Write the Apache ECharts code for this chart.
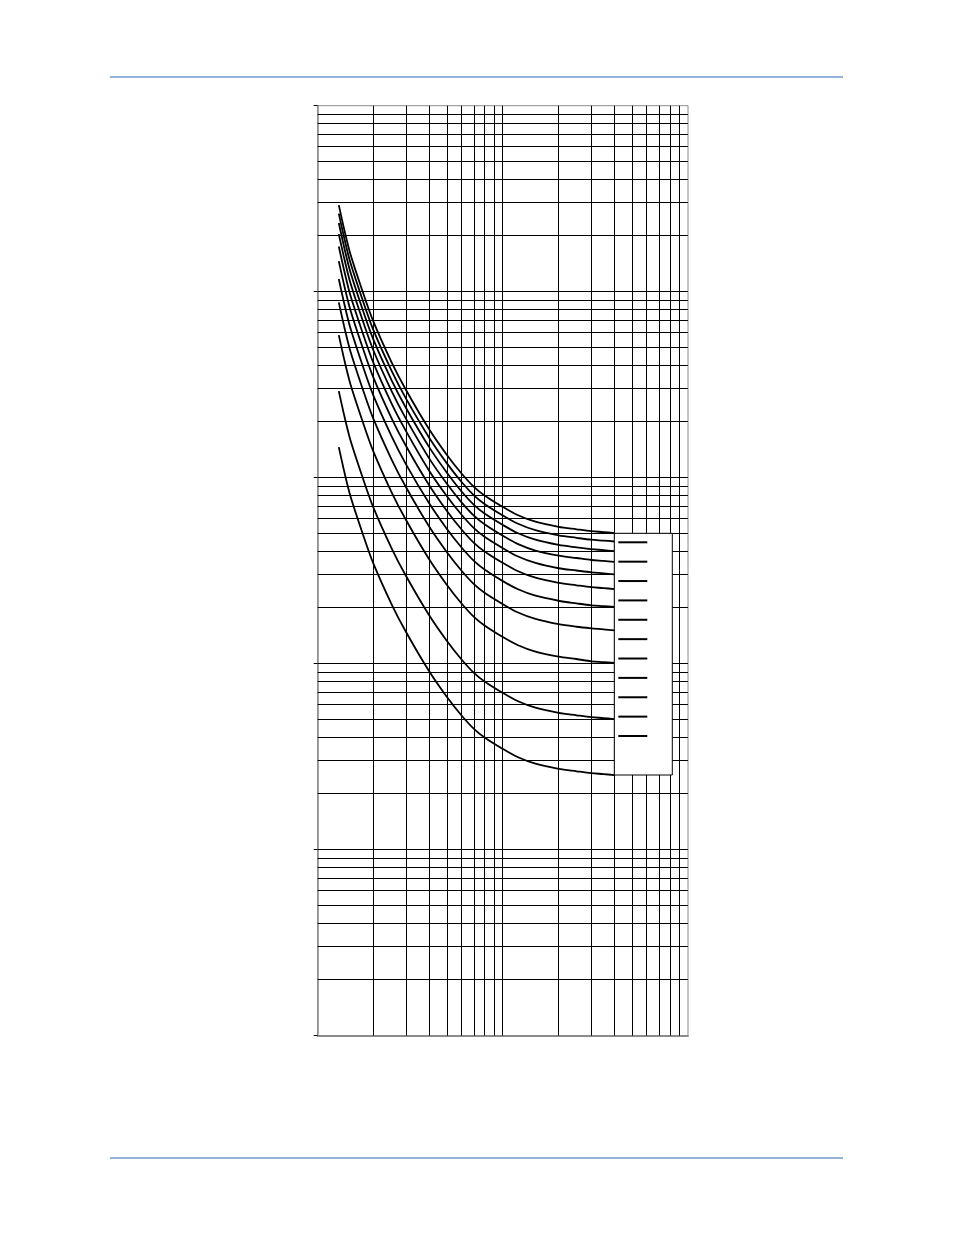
<!DOCTYPE html>
<html>
<head>
<meta charset="utf-8">
<script src="https://cdn.jsdelivr.net/npm/echarts@6/dist/echarts.min.js"></script>
<style>
html,body{margin:0;padding:0;background:#fff;}
#chart{width:954px;height:1235px;}
</style>
</head>
<body>
<div id="chart"></div>
<script>
// Multiples of pickup (x axis, log)
const multiples = [1.3, 1.4, 1.5, 1.75, 2, 2.5, 3, 4, 5, 6, 7, 8, 10, 12, 15, 20, 25, 30, 35, 40];

// Time values (y axis, log) read per curve
const td_0_5 = [14.6, 10.5, 8.0, 5.0, 3.45, 2.1, 1.48, 0.91, 0.66, 0.525, 0.445, 0.40, 0.348, 0.315, 0.29, 0.272, 0.264, 0.258, 0.255, 0.252];
const td_1   = [29.2, 21.0, 16.0, 10.0, 6.9, 4.2, 2.96, 1.82, 1.32, 1.05, 0.89, 0.80, 0.696, 0.63, 0.58, 0.544, 0.528, 0.516, 0.51, 0.504];
const td_2   = [58.4, 42.0, 32.0, 20.0, 13.8, 8.4, 5.92, 3.64, 2.64, 2.10, 1.78, 1.60, 1.39, 1.26, 1.16, 1.09, 1.06, 1.03, 1.02, 1.01];
const td_3   = [87.6, 63.0, 48.0, 30.0, 20.7, 12.6, 8.88, 5.46, 3.96, 3.15, 2.67, 2.40, 2.09, 1.89, 1.74, 1.63, 1.58, 1.55, 1.53, 1.51];
const td_4   = [117, 84.0, 64.0, 40.0, 27.6, 16.8, 11.8, 7.28, 5.28, 4.20, 3.56, 3.20, 2.78, 2.52, 2.32, 2.18, 2.11, 2.06, 2.04, 2.02];
const td_5   = [146, 105, 80.0, 50.0, 34.5, 21.0, 14.8, 9.10, 6.60, 5.25, 4.45, 4.00, 3.48, 3.15, 2.90, 2.72, 2.64, 2.58, 2.55, 2.52];
const td_6   = [175, 126, 96.0, 60.0, 41.4, 25.2, 17.8, 10.9, 7.92, 6.30, 5.34, 4.80, 4.18, 3.78, 3.48, 3.26, 3.17, 3.10, 3.06, 3.02];
const td_7   = [204, 147, 112, 70.0, 48.3, 29.4, 20.7, 12.7, 9.24, 7.35, 6.23, 5.60, 4.87, 4.41, 4.06, 3.81, 3.70, 3.61, 3.57, 3.53];
const td_8   = [234, 168, 128, 80.0, 55.2, 33.6, 23.7, 14.6, 10.6, 8.40, 7.12, 6.40, 5.57, 5.04, 4.64, 4.35, 4.22, 4.13, 4.08, 4.03];
const td_9   = [263, 189, 144, 90.0, 62.1, 37.8, 26.6, 16.4, 11.9, 9.45, 8.01, 7.20, 6.26, 5.67, 5.22, 4.90, 4.75, 4.64, 4.59, 4.54];
const td_10  = [292, 210, 160, 100, 69.0, 42.0, 29.6, 18.2, 13.2, 10.5, 8.90, 8.00, 6.96, 6.30, 5.80, 5.44, 5.28, 5.16, 5.10, 5.04];

const curveNames = ['0.5', '1', '2', '3', '4', '5', '6', '7', '8', '9', '10'];
const curveValues = [td_0_5, td_1, td_2, td_3, td_4, td_5, td_6, td_7, td_8, td_9, td_10];

// Grid line values (log grid)
const xGridValues = [2, 3, 4, 5, 6, 7, 8, 9, 10, 20, 30, 40, 50, 60, 70, 80, 90];
const yGridValues = [0.02, 0.03, 0.04, 0.05, 0.06, 0.07, 0.08, 0.09,
                     0.1, 0.2, 0.3, 0.4, 0.5, 0.6, 0.7, 0.8, 0.9,
                     1, 2, 3, 4, 5, 6, 7, 8, 9,
                     10, 20, 30, 40, 50, 60, 70, 80, 90,
                     100, 200, 300, 400, 500, 600, 700, 800, 900];
const yDecades = [0.01, 0.1, 1, 10, 100, 1000];

const X_MIN = 1, X_MAX = 100, Y_MIN = 0.01, Y_MAX = 1000;

const chart = echarts.init(document.getElementById('chart'), null, {renderer: 'canvas'});

function crisp(v) { return Math.round(v - 0.5) + 0.5; }

const gridSeries = [
  {
    type: 'custom',
    name: 'vgrid',
    silent: true,
    z: 1,
    data: xGridValues.map(v => [v, 1]),
    renderItem: function (params, api) {
      const v = api.value(0);
      const p1 = api.coord([v, Y_MIN]);
      const p2 = api.coord([v, Y_MAX]);
      const x = crisp(p1[0]);
      return {type: 'line', shape: {x1: x, y1: p2[1], x2: x, y2: p1[1]},
              style: {stroke: '#000', lineWidth: 1}};
    }
  },
  {
    type: 'custom',
    name: 'hgrid',
    silent: true,
    z: 1,
    data: yGridValues.map(v => [2, v]),
    renderItem: function (params, api) {
      const v = api.value(1);
      const p1 = api.coord([X_MIN, v]);
      const p2 = api.coord([X_MAX, v]);
      const y = crisp(p1[1]);
      return {type: 'line', shape: {x1: p1[0], y1: y, x2: p2[0], y2: y},
              style: {stroke: '#000', lineWidth: 1}};
    }
  }
];

const curveSeries = curveNames.map((n, i) => ({
  type: 'line',
  name: n,
  data: multiples.map((m, k) => [m, curveValues[i][k]]),
  symbol: 'none',
  showSymbol: false,
  smooth: 0.3,
  z: 3,
  color: '#000',
  itemStyle: {color: '#000'},
  lineStyle: {color: '#000', width: 1.8}
}));

chart.setOption({
  animation: false,
  backgroundColor: '#fff',
  color: ['#000'],
  grid: {left: 317.7, right: 266, top: 105.7, bottom: 199.3, show: true,
         borderColor: '#8c8c8c', borderWidth: 1, backgroundColor: 'transparent'},
  xAxis: {
    type: 'log', logBase: 10, min: X_MIN, max: X_MAX,
    axisLine: {show: true, onZero: false, lineStyle: {color: '#8c8c8c', width: 2}},
    axisTick: {show: false},
    axisLabel: {show: false},
    splitLine: {show: false}
  },
  yAxis: [
    {
      type: 'log', logBase: 10, min: Y_MIN, max: Y_MAX,
      axisLine: {show: true, lineStyle: {color: '#8c8c8c', width: 1.5}},
      axisTick: {show: true, inside: false, length: 4, customValues: yDecades, lineStyle: {color: '#000', width: 1}},
      axisLabel: {show: false},
      splitLine: {show: false}
    }
  ],
  legend: {
    orient: 'vertical',
    left: 614.3,
    top: 533.3,
    padding: [8, 25, 38, 4],
    itemGap: 17.37,
    itemWidth: 29,
    itemHeight: 2,
    icon: 'rect',
    itemStyle: {color: '#000'},
    formatter: function () { return ''; },
    backgroundColor: '#fff',
    borderColor: '#000',
    borderWidth: 1,
    borderRadius: 0,
    selectedMode: false,
    data: curveNames
  },
  graphic: [
    {type: 'line', shape: {x1: 110, y1: 77, x2: 843, y2: 77}, style: {stroke: '#95b3d7', lineWidth: 2}, silent: true},
    {type: 'line', shape: {x1: 110, y1: 1158, x2: 843, y2: 1158}, style: {stroke: '#95b3d7', lineWidth: 2}, silent: true}
  ],
  series: gridSeries.concat(curveSeries)
});
</script>
</body>
</html>
